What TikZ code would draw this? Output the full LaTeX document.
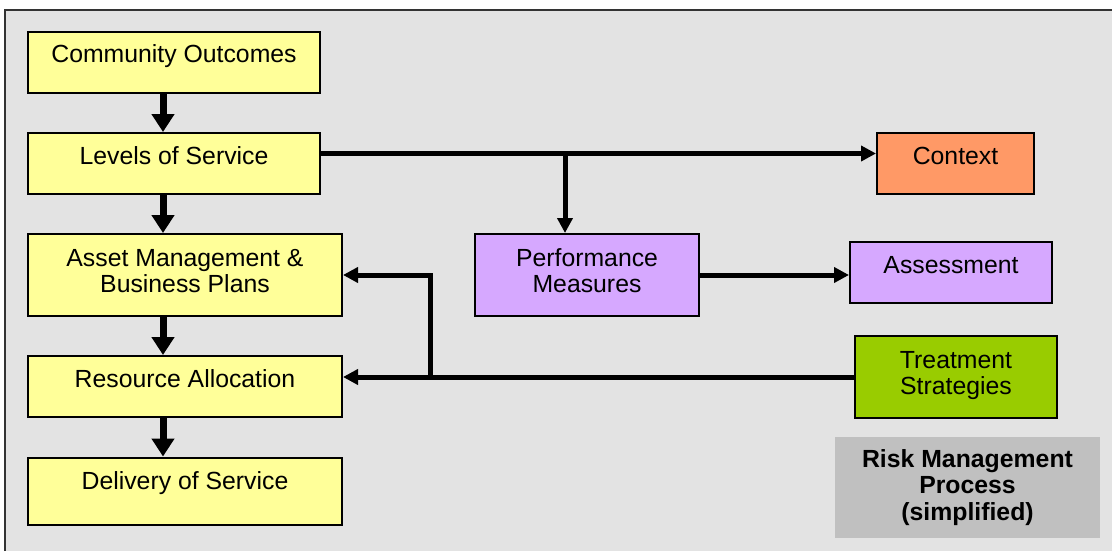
\documentclass[tikz,border=0pt]{standalone}
\usepackage{fontspec}
\setmainfont{Liberation Sans}
\usetikzlibrary{arrows.meta}
\definecolor{planfill}{RGB}{255,255,153}
\definecolor{contextfill}{RGB}{255,153,102}
\definecolor{measurefill}{RGB}{214,168,255}
\definecolor{treatfill}{RGB}{153,204,0}
\definecolor{notefill}{RGB}{192,192,192}
\definecolor{panel}{RGB}{227,227,227}
\newcommand{\lowstrut}{\rule[-4.5pt]{0pt}{0pt}}

\begin{document}
\begin{tikzpicture}[x=0.5pt, y=-0.5pt,
    box/.style={draw=black, line width=1pt, inner sep=0pt, align=center,
                font=\fontsize{12.4pt}{13pt}\selectfont},
    oneline/.style={box, text height=9pt, text depth=8.5pt},
    flow/.style={line width=3.5pt, -{Triangle[width=11pt, length=9pt]}},
    link/.style={line width=2.5pt, -{Triangle[width=7.5pt, length=7.5pt]}}]
        \useasboundingbox (0,0) rectangle (1112,551);
        \fill[panel] (5,10) rectangle (1112,551);
        \draw[black!80, line width=0.8pt] (5,551) -- (5,10) -- (1112,10);

        % planning chain
        \node[oneline, fill=planfill, minimum width=146pt, minimum height=30.5pt] (outcomes) at (174,62.5) {Community Outcomes};
        \node[oneline, fill=planfill, minimum width=146pt, minimum height=30.5pt] (levels) at (174,163.5) {Levels of Service};
        \node[box, fill=planfill, minimum width=157pt, minimum height=41pt] (plans) at (185,275) {Asset Management \&\\Business Plans\lowstrut};
        \node[oneline, fill=planfill, minimum width=157pt, minimum height=30.5pt] (allocation) at (185,386.5) {Resource Allocation};
        \node[oneline, fill=planfill, minimum width=157pt, minimum height=33.5pt, text depth=11pt] (delivery) at (185,491) {Delivery of Service};

        % risk side
        \node[oneline, fill=contextfill, minimum width=78.5pt, minimum height=30.5pt] (context) at (955.5,163.5) {Context};
        \node[box, fill=measurefill, minimum width=112pt, minimum height=41pt] (measures) at (587,275) {Performance\\Measures\lowstrut};
        \node[oneline, fill=measurefill, minimum width=101pt, minimum height=30.5pt] (assessment) at (951,272.5) {Assessment};
        \node[box, fill=treatfill, minimum width=101pt, minimum height=41pt] (treatment) at (956,377) {Treatment\\Strategies\lowstrut};
        \node[box, draw=none, fill=notefill, minimum width=132.5pt, minimum height=50.5pt,
              font=\bfseries\fontsize{12.4pt}{13.2pt}\selectfont] (riskproc) at (967.5,487.5) {Risk Management\\Process\\(simplified)};

        \coordinate (spine) at (163,0);
        \coordinate (hline) at (0,153.5);
        \coordinate (branch) at (565,153.5);
        \coordinate (join) at (430,377);

        \draw[flow] (outcomes.south -| spine) -- (levels.north -| spine);
        \draw[flow] (levels.south -| spine) -- (plans.north -| spine);
        \draw[flow] (plans.south -| spine) -- (allocation.north -| spine);
        \draw[flow] (allocation.south -| spine) -- (delivery.north -| spine);

        \draw[link] (levels.east |- hline) -- (context.west |- hline);
        \draw[link] (branch) -- (branch |- measures.north);
        \draw[link] (measures.east) -- (measures.east -| assessment.west);
        \draw[link] (treatment.west) -- (treatment.west -| allocation.east);
        \draw[link] (join) |- (plans.east);
    \end{tikzpicture}
\end{document}
